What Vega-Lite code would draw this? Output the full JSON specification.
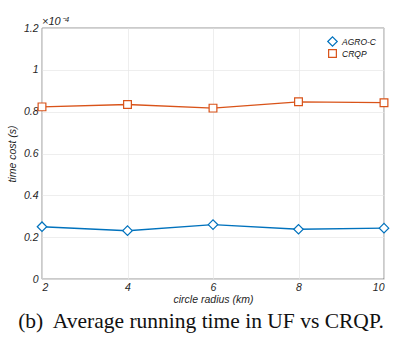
{
  "$schema": "https://vega.github.io/schema/vega-lite/v6.json",
  "width": 342,
  "height": 251,
  "autosize": {"type": "none"},
  "padding": {"left": 42, "top": 28, "right": 23, "bottom": 71},
  "background": "white",
  "config": {
    "view": {"stroke": "#262626", "strokeWidth": 0.6},
    "font": "Liberation Sans",
    "legend": {
      "title": null,
      "orient": "top-right",
      "offset": 8,
      "labelFont": "Liberation Sans",
      "labelFontStyle": "italic",
      "labelFontSize": 8.5,
      "labelColor": "#111",
      "rowPadding": -2,
      "symbolStrokeWidth": 1.2,
      "symbolFillColor": "white"
    }
  },
  "title": {
    "text": "(b)\u00a0 Average running time in UF vs CRQP.",
    "orient": "bottom",
    "font": "Liberation Serif",
    "fontSize": 21.5,
    "fontWeight": "normal",
    "color": "#111",
    "offset": 6,
    "dx": -12,
    "anchor": "middle"
  },
  "datasets": {
    "series": [
      {"r": 2, "t": 0.25, "method": "AGRO-C"},
      {"r": 4, "t": 0.231, "method": "AGRO-C"},
      {"r": 6, "t": 0.26, "method": "AGRO-C"},
      {"r": 8, "t": 0.238, "method": "AGRO-C"},
      {"r": 10, "t": 0.243, "method": "AGRO-C"},
      {"r": 2, "t": 0.823, "method": "CRQP"},
      {"r": 4, "t": 0.834, "method": "CRQP"},
      {"r": 6, "t": 0.817, "method": "CRQP"},
      {"r": 8, "t": 0.847, "method": "CRQP"},
      {"r": 10, "t": 0.843, "method": "CRQP"}
    ],
    "exp": [{"r": 2, "t": 1.2, "label": "×10⁻⁴"}]
  },
  "layer": [
    {
      "data": {"name": "series"},
      "mark": {"type": "line", "strokeWidth": 1.4},
      "encoding": {
        "x": {
          "field": "r", "type": "quantitative",
          "scale": {"domain": [2, 10], "nice": false, "zero": false},
          "axis": {
            "values": [2, 4, 6, 8, 10],
            "title": "circle radius (km)",
            "titleFont": "Liberation Sans", "titleFontStyle": "italic", "titleFontWeight": "normal",
            "titleFontSize": 10.5, "titleColor": "#262626", "titlePadding": 2,
            "labelFont": "Liberation Sans", "labelFontStyle": "italic", "labelFontSize": 10.5,
            "labelColor": "#262626", "labelPadding": 3,
            "domain": false, "ticks": false,
            "grid": true, "gridColor": "#e6e6e6", "gridWidth": 0.7
          }
        },
        "y": {
          "field": "t", "type": "quantitative",
          "scale": {"domain": [0, 1.2], "nice": false},
          "axis": {
            "values": [0, 0.2, 0.4, 0.6, 0.8, 1, 1.2],
            "format": "~g",
            "title": "time cost (s)",
            "titleFont": "Liberation Sans", "titleFontStyle": "italic", "titleFontWeight": "normal",
            "titleFontSize": 10.5, "titleColor": "#262626", "titlePadding": 6,
            "labelFont": "Liberation Sans", "labelFontStyle": "italic", "labelFontSize": 10.5,
            "labelColor": "#262626", "labelPadding": 4,
            "domain": false, "ticks": false,
            "grid": true, "gridColor": "#e6e6e6", "gridWidth": 0.7
          }
        },
        "stroke": {
          "field": "method", "type": "nominal",
          "scale": {"domain": ["AGRO-C", "CRQP"], "range": ["#0072BD", "#D95319"]}
        }
      }
    },
    {
      "data": {"name": "series"},
      "mark": {"type": "point", "filled": true, "fill": "white", "strokeWidth": 1.2, "opacity": 1},
      "encoding": {
        "x": {"field": "r", "type": "quantitative"},
        "y": {"field": "t", "type": "quantitative"},
        "stroke": {
          "field": "method", "type": "nominal",
          "scale": {"domain": ["AGRO-C", "CRQP"], "range": ["#0072BD", "#D95319"]}
        },
        "shape": {
          "field": "method", "type": "nominal",
          "scale": {"domain": ["AGRO-C", "CRQP"], "range": ["diamond", "square"]}
        },
        "size": {
          "field": "method", "type": "nominal",
          "scale": {"domain": ["AGRO-C", "CRQP"], "range": [90, 60]}
        }
      }
    },
    {
      "data": {"name": "exp"},
      "mark": {"type": "text", "align": "left", "baseline": "bottom", "dy": -1, "fontStyle": "italic", "fontSize": 11, "color": "#262626", "font": "Liberation Sans"},
      "encoding": {
        "x": {"field": "r", "type": "quantitative"},
        "y": {"field": "t", "type": "quantitative"},
        "text": {"field": "label"}
      }
    }
  ]
}
